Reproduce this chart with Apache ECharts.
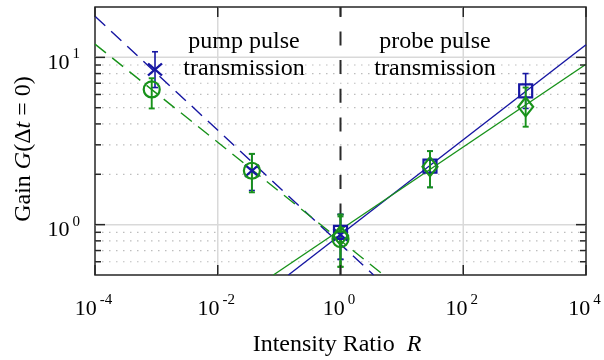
<!DOCTYPE html>
<html><head><meta charset="utf-8">
<script src="https://cdn.jsdelivr.net/npm/echarts@6/dist/echarts.min.js"></script>
<style>html,body{margin:0;padding:0;background:#fff}#c{width:604px;height:360px}</style>
</head><body><div id="c"></div>
<script>
// ---- axis data ----
const xTickValues = [1e-4, 1e-2, 1, 1e2, 1e4];
const xTickLabels = ['-4', '-2', '0', '2', '4'];
const xGridValues = [1e-2, 1e2];
const yTickValues = [1, 10];
const yTickLabels = ['0', '1'];
const yMinorValues = [0.6, 0.7, 0.8, 0.9, 2, 3, 4, 5, 6, 7, 8, 9];

// ---- pump pulse transmission ----
const pumpBlueR  = [9.5e-4, 0.036, 1.0];
const pumpBlueG  = [8.45, 2.1, 0.87];
const pumpBlueLo = [6.6, 1.6, 0.62];
const pumpBlueHi = [10.8, 2.65, 1.15];

const pumpGreenR  = [8.4e-4, 0.036, 1.0];
const pumpGreenG  = [6.43, 2.1, 0.82];
const pumpGreenLo = [4.95, 1.56, 0.56];
const pumpGreenHi = [7.5, 2.65, 1.12];

// ---- probe pulse transmission ----
const probeBlueR  = [1.0, 28.7, 1040];
const probeBlueG  = [0.9, 2.24, 6.3];
const probeBlueLo = [0.62, 1.67, 4.95];
const probeBlueHi = [1.15, 2.75, 8.0];

const probeGreenR  = [1.0, 28.7, 1040];
const probeGreenG  = [0.86, 2.22, 5.06];
const probeGreenLo = [0.56, 1.67, 3.85];
const probeGreenHi = [1.15, 2.75, 6.6];

// ---- fitted lines (end points) ----
const fitBlueDashR  = [1e-4, 3.46];
const fitBlueDashG  = [17.6, 0.5];
const fitGreenDashR = [1e-4, 5.04];
const fitGreenDashG = [12.0, 0.5];
const fitBlueSolidR  = [0.1416, 1e4];
const fitBlueSolidG  = [0.5, 11.9];
const fitGreenSolidR = [0.0806, 1e4];
const fitGreenSolidG = [0.5, 9.1];

// ---- divider ----
const dividerR = [1, 1];
const dividerG = [0.5, 20];

const FONT = '"Liberation Serif", "Times New Roman", serif';
const BLUE = '#1616a2';
const GREEN = '#18921a';
const AX = '#262626';

const richTick = {
  b: {font: '22px ' + FONT, lineHeight: 30, verticalAlign: 'middle', fill: '#000'},
  s: {font: '15px ' + FONT, lineHeight: 12, height: 12, verticalAlign: 'top', padding: [0, 0, 0, 3], fill: '#000'}
};

function zip(a, b) { return a.map((v, i) => [v, b[i]]); }

function hGrid(values, style, z) {
  return {
    type: 'custom', coordinateSystem: 'cartesian2d', z: z, silent: true,
    data: values.map(v => [1, v]), encode: {x: 0, y: 1},
    renderItem(params, api) {
      const cs = params.coordSys;
      const p = api.coord([1, api.value(1)]);
      return {type: 'line', shape: {x1: cs.x, y1: p[1], x2: cs.x + cs.width, y2: p[1]}, style: Object.assign({}, style)};
    }
  };
}
function vGrid(values, style, z) {
  return {
    type: 'custom', coordinateSystem: 'cartesian2d', z: z, silent: true,
    data: values.map(v => [v, 1]), encode: {x: 0, y: 1},
    renderItem(params, api) {
      const cs = params.coordSys;
      const p = api.coord([api.value(0), 1]);
      return {type: 'line', shape: {x1: p[0], y1: cs.y, x2: p[0], y2: cs.y + cs.height}, style: Object.assign({}, style)};
    }
  };
}
function yTicks(values, len) {
  return {
    type: 'custom', coordinateSystem: 'cartesian2d', z: 8, silent: true,
    data: values.map(v => [1, v]), encode: {x: 0, y: 1},
    renderItem(params, api) {
      const cs = params.coordSys;
      const p = api.coord([1, api.value(1)]);
      const st = {stroke: AX, lineWidth: 1.5};
      return {type: 'group', children: [
        {type: 'line', shape: {x1: cs.x, y1: p[1], x2: cs.x + len, y2: p[1]}, style: Object.assign({}, st)},
        {type: 'line', shape: {x1: cs.x + cs.width - len, y1: p[1], x2: cs.x + cs.width, y2: p[1]}, style: Object.assign({}, st)}
      ]};
    }
  };
}
function xTicks(values, len) {
  return {
    type: 'custom', coordinateSystem: 'cartesian2d', z: 8, silent: true,
    data: values.map(v => [v, 1]), encode: {x: 0, y: 1},
    renderItem(params, api) {
      const cs = params.coordSys;
      const p = api.coord([api.value(0), 1]);
      const st = {stroke: AX, lineWidth: 1.5};
      return {type: 'group', children: [
        {type: 'line', shape: {x1: p[0], y1: cs.y + cs.height, x2: p[0], y2: cs.y + cs.height - len}, style: Object.assign({}, st)},
        {type: 'line', shape: {x1: p[0], y1: cs.y, x2: p[0], y2: cs.y + len}, style: Object.assign({}, st)}
      ]};
    }
  };
}
function xLabels() {
  return {
    type: 'custom', coordinateSystem: 'cartesian2d', z: 8, silent: true,
    data: xTickValues.map((v, i) => [v, 1, i]), encode: {x: 0, y: 1},
    renderItem(params, api) {
      const cs = params.coordSys;
      const p = api.coord([api.value(0), 1]);
      const lab = xTickLabels[api.value(2)];
      return {type: 'text', x: p[0] - 1.5, y: cs.y + cs.height + 34,
        style: {text: '{b|10}{s|' + lab + '}', rich: richTick, align: 'center', verticalAlign: 'middle'}};
    }
  };
}
function yLabels() {
  return {
    type: 'custom', coordinateSystem: 'cartesian2d', z: 8, silent: true,
    data: yTickValues.map((v, i) => [1, v, i]), encode: {x: 0, y: 1},
    renderItem(params, api) {
      const cs = params.coordSys;
      const p = api.coord([1, api.value(1)]);
      const lab = yTickLabels[api.value(2)];
      return {type: 'text', x: cs.x - 15, y: p[1] + 6,
        style: {text: '{b|10}{s|' + lab + '}', rich: richTick, align: 'right', verticalAlign: 'middle'}};
    }
  };
}
function errBars(R, G, lo, hi, color, width) {
  return {
    type: 'custom', coordinateSystem: 'cartesian2d', z: 5, silent: true,
    data: R.map((r, i) => [r, G[i], lo[i], hi[i]]), encode: {x: 0, y: 1},
    renderItem(params, api) {
      const x = api.value(0);
      const a = api.coord([x, api.value(2)]);
      const b = api.coord([x, api.value(3)]);
      const c = 3;
      const st = {stroke: color, lineWidth: width};
      return {type: 'group', children: [
        {type: 'line', shape: {x1: a[0], y1: a[1], x2: b[0], y2: b[1]}, style: Object.assign({}, st)},
        {type: 'line', shape: {x1: a[0] - c, y1: a[1], x2: a[0] + c, y2: a[1]}, style: Object.assign({}, st)},
        {type: 'line', shape: {x1: b[0] - c, y1: b[1], x2: b[0] + c, y2: b[1]}, style: Object.assign({}, st)}
      ]};
    }
  };
}
function fitLine(R, G, color, dash) {
  return {type: 'line', data: zip(R, G), symbol: 'none', showSymbol: false, z: 4, silent: true, clip: true,
    lineStyle: {color: color, width: 1.4, type: dash}};
}
function markers(R, G, symbol, size, color) {
  return {type: 'scatter', data: zip(R, G), symbol: symbol, symbolSize: size, z: 6, silent: true,
    itemStyle: {color: 'transparent', borderColor: color, borderWidth: 2.2, opacity: 1}};
}

const chart = echarts.init(document.getElementById('c'), null, {renderer: 'canvas'});
const hidden = {axisLine: {show: false}, axisTick: {show: false}, axisLabel: {show: false}, splitLine: {show: false}};
chart.setOption({
  animation: false,
  grid: {left: 95, right: 18, top: 7, bottom: 85, show: true, borderColor: AX, borderWidth: 1.5, backgroundColor: 'transparent'},
  xAxis: Object.assign({type: 'log', logBase: 10, min: 1e-4, max: 1e4}, hidden),
  yAxis: Object.assign({type: 'log', logBase: 10, min: 0.5, max: 20}, hidden),
  graphic: [
    {type: 'text', x: 244, y: 55.4, z: 10, style: {text: 'pump pulse\ntransmission', font: '24px ' + FONT, fill: '#000', align: 'center', verticalAlign: 'middle', lineHeight: 27}},
    {type: 'text', x: 435, y: 55.4, z: 10, style: {text: 'probe pulse\ntransmission', font: '24px ' + FONT, fill: '#000', align: 'center', verticalAlign: 'middle', lineHeight: 27}},
    {type: 'text', x: 337, y: 345, z: 10, style: {text: 'Intensity Ratio  {i|R}', font: '24px ' + FONT, fill: '#000', align: 'center', verticalAlign: 'middle',
      rich: {i: {font: 'italic 24px ' + FONT, fill: '#000'}}}},
    {type: 'text', x: 24, y: 149, rotation: Math.PI / 2, z: 10, style: {text: '{n|Gain }{i|G}{n|(Δ}{i|t}{n| = 0)}', font: '24px ' + FONT, fill: '#000', align: 'center', verticalAlign: 'middle',
      rich: {n: {font: '24px ' + FONT, fill: '#000'}, i: {font: 'italic 24px ' + FONT, fill: '#000'}}}}
  ],
  series: [
    hGrid(yMinorValues, {stroke: '#bdbdbd', lineWidth: 1.2, lineDash: [1.5, 5.5]}, 1),
    hGrid(yTickValues, {stroke: '#d9d9d9', lineWidth: 1.5}, 1),
    vGrid(xGridValues, {stroke: '#d9d9d9', lineWidth: 1.5}, 1),
    {type: 'line', data: zip(dividerR, dividerG), symbol: 'none', z: 3, silent: true,
      lineStyle: {color: '#2a2a2a', width: 2, type: [14, 14.7]}},
    fitLine(fitBlueDashR, fitBlueDashG, BLUE, [14, 8]),
    fitLine(fitGreenDashR, fitGreenDashG, GREEN, [14, 8]),
    fitLine(fitBlueSolidR, fitBlueSolidG, BLUE, 'solid'),
    fitLine(fitGreenSolidR, fitGreenSolidG, GREEN, 'solid'),
    errBars(pumpBlueR, pumpBlueG, pumpBlueLo, pumpBlueHi, BLUE, 1.6),
    errBars(probeBlueR, probeBlueG, probeBlueLo, probeBlueHi, BLUE, 1.6),
    errBars(pumpGreenR, pumpGreenG, pumpGreenLo, pumpGreenHi, GREEN, 1.9),
    errBars(probeGreenR, probeGreenG, probeGreenLo, probeGreenHi, GREEN, 1.9),
    markers(pumpBlueR, pumpBlueG, 'path://M0,0L10,10M10,0L0,10', [14, 12], BLUE),
    markers(probeBlueR, probeBlueG, 'rect', 13, BLUE),
    markers(pumpGreenR, pumpGreenG, 'circle', 16, GREEN),
    markers(probeGreenR, probeGreenG, 'diamond', [15, 19], GREEN),
    yTicks(yTickValues, 10),
    yTicks(yMinorValues, 6),
    xTicks(xTickValues, 10),
    xLabels(),
    yLabels()
  ]
});
</script>
</body></html>
